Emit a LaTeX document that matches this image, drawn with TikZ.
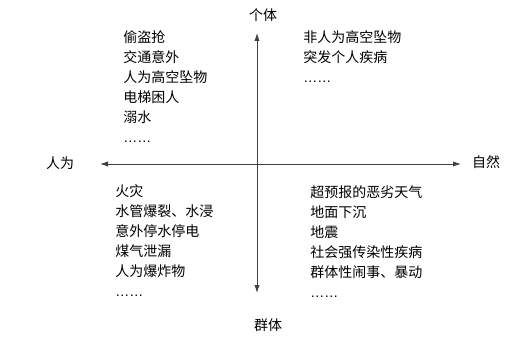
\documentclass[tikz,border=0pt]{standalone}
\usepackage{fontspec}
\setmainfont{Noto Sans CJK SC}
\newfontfamily\dotfont{Liberation Sans}
\usetikzlibrary{arrows.meta}
\newcommand{\etc}{{\dotfont ……}}
\begin{document}
\begin{tikzpicture}[x=0.75pt, y=-0.75pt, >={Latex[length=6pt,width=4pt]},
    axis/.style={draw=black!75, line width=0.7pt},
    lbl/.style={font=\fontsize{10.5}{15}\selectfont, inner sep=0pt},
    lista/.style={lbl, align=left, anchor=north west}]
\useasboundingbox (0,0) rectangle (528,345);

% axis ends
\coordinate (top) at (257,33);
\coordinate (bottom) at (257,293);
\coordinate (left) at (100,164);
\coordinate (right) at (461,164);

% axes
\draw[axis, <->] (bottom) -- (top);
\draw[axis, <->] (left) -- (right);

% axis labels
\node[lbl] (geti) at (263,15) {个体};
\node[lbl] (qunti) at (268,325) {群体};
\node[lbl] (renwei) at (60,163) {人为};
\node[lbl] (ziran) at (486,162) {自然};

% quadrants
\node[lista] (q1) at (123,30) {偷盗抢\\交通意外\\人为高空坠物\\电梯困人\\溺水\\\etc};
\node[lista] (q2) at (303,30) {非人为高空坠物\\突发个人疾病\\\etc};
\node[lista] (q3) at (115,184) {火灾\\水管爆裂、水浸\\意外停水停电\\煤气泄漏\\人为爆炸物\\\etc};
\node[lista] (q4) at (310,185) {超预报的恶劣天气\\地面下沉\\地震\\社会强传染性疾病\\群体性闹事、暴动\\\etc};
\end{tikzpicture}
\end{document}
